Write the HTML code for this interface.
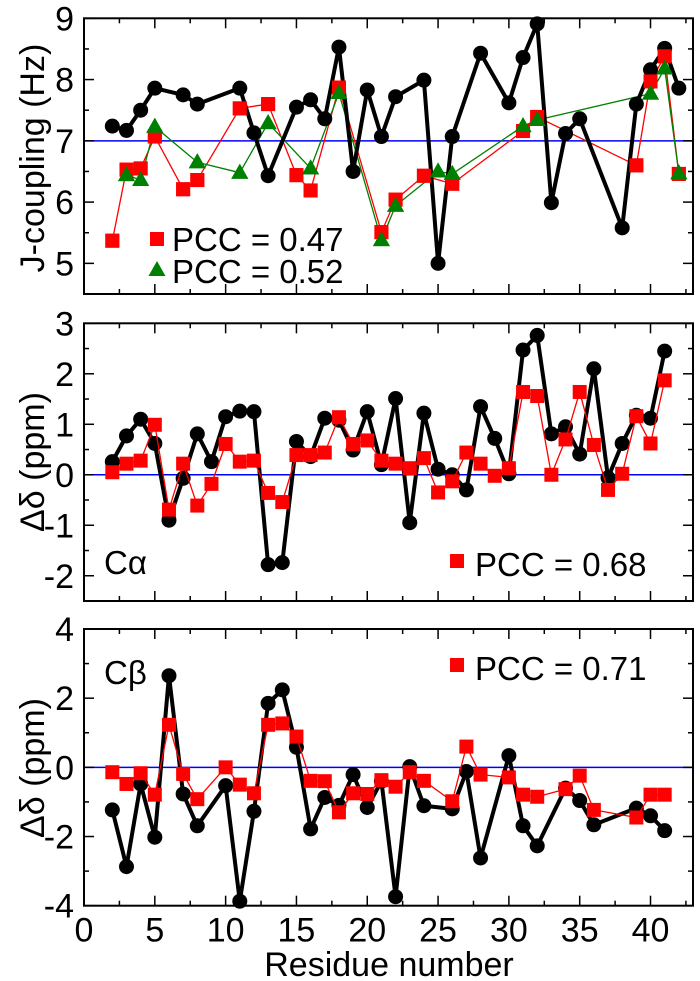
<!DOCTYPE html>
<html><head><meta charset="utf-8"><style>
html,body{margin:0;padding:0;background:#fff;}
svg{display:block;font-family:"Liberation Sans",sans-serif;}
</style></head><body>
<svg id="fig" width="700" height="981" viewBox="0 0 700 981" xmlns="http://www.w3.org/2000/svg"></svg>
<script>
const residues = [2,3,4,5,6,7,8,9,10,11,12,13,14,15,16,17,18,19,20,21,22,23,24,25,26,27,28,29,30,31,32,33,34,35,36,37,38,39,40,41,42];
const jBlack = [7.24,7.17,7.5,7.86,null,7.75,7.6,null,null,7.86,7.13,6.43,null,7.55,7.67,7.36,8.53,6.5,7.83,7.07,7.72,null,7.99,5.0,7.07,null,8.43,null,7.62,8.36,8.91,5.99,7.12,7.36,null,null,5.58,7.6,8.16,8.51,7.86];
const jRed = [5.37,6.53,6.55,7.07,null,6.21,6.36,null,null,7.53,null,7.6,null,6.44,6.19,null,7.87,null,null,5.51,6.04,null,6.43,null,6.3,null,null,null,null,7.16,7.39,null,null,null,null,null,null,6.6,7.97,8.38,6.46];
const jGreen = [null,6.44,6.36,7.23,null,null,6.65,null,null,6.48,null,7.29,null,null,6.55,null,7.78,null,null,5.38,5.94,null,null,6.5,6.46,null,null,null,null,7.24,7.34,null,null,null,null,null,null,null,7.77,8.18,6.47];
const caBlack = [0.26,0.77,1.1,0.62,-0.9,-0.07,0.81,0.26,1.15,1.26,1.25,-1.78,-1.74,0.66,0.36,1.12,1.08,0.49,1.25,0.2,1.51,-0.95,1.22,0.11,0.0,-0.3,1.35,0.72,0.02,2.47,2.76,0.81,0.95,0.41,2.1,-0.06,0.62,1.18,1.12,2.45,null];
const caRed = [0.05,0.22,0.28,0.99,-0.69,0.22,-0.61,-0.18,0.61,0.26,0.28,-0.36,-0.54,0.39,0.39,0.44,1.14,0.61,0.68,0.28,0.22,0.13,0.33,-0.35,-0.13,0.44,0.22,-0.02,0.13,1.64,1.56,0.0,0.7,1.64,0.59,-0.3,0.02,1.16,0.62,1.87,null];
const cbBlack = [-1.23,-2.87,-0.48,-2.02,2.65,-0.77,-1.69,null,-0.53,-3.87,-1.27,1.85,2.24,0.58,-1.78,-0.87,-1.1,-0.21,-1.16,-0.4,-3.74,0.02,-1.11,null,-1.2,-0.12,-2.62,null,0.34,-1.69,-2.27,null,-0.6,-0.96,-1.66,null,null,-1.18,-1.4,-1.83,null];
const cbRed = [-0.14,-0.48,-0.17,-0.79,1.23,-0.19,-0.92,null,0.0,-0.5,-0.75,1.23,1.27,0.89,-0.39,-0.4,-1.3,-0.75,-0.77,-0.37,-0.56,-0.14,-0.39,null,-0.98,0.6,-0.21,null,-0.29,-0.79,-0.85,null,-0.63,-0.24,-1.23,null,null,-1.45,-0.79,-0.79,null];
const xTicks = [0,5,10,15,20,25,30,35,40];
const jTicks = [5,6,7,8,9];
const caTicks = [-2,-1,0,1,2,3];
const cbTicks = [-4,-2,0,2,4];

const NS="http://www.w3.org/2000/svg";
const svg=document.getElementById('fig');
function mk(tag,attrs,parent){const e=document.createElementNS(NS,tag);for(const k in attrs)e.setAttribute(k,attrs[k]);(parent||svg).appendChild(e);return e;}
const XL=84,XR=693,XMIN=0,XMAX=43;
function xs(v){return XL+(v-XMIN)/(XMAX-XMIN)*(XR-XL);}

function panel(name,top,bot,ymin,ymax,yTicks,yMinorStep,refY,showXLabels){
  const g=mk('g',{});
  
  
  const ys=v=>bot-(v-ymin)/(ymax-ymin)*(bot-top);
  const rl=mk('line',{x1:XL,x2:XR,y1:ys(refY),y2:ys(refY),stroke:'#0000ff','stroke-width':1.5},g);
  
  
  for(let v=0;v<=XMAX;v+=2.5){
    const major=v%5===0, L=major?10:5, x=xs(v);
    mk('line',{x1:x,x2:x,y1:bot,y2:bot-L,stroke:'#000','stroke-width':1.5},g);
    mk('line',{x1:x,x2:x,y1:top,y2:top+L,stroke:'#000','stroke-width':1.5},g);
  }
  for(let v=ymin;v<=ymax+1e-9;v+=yMinorStep){
    const major=yTicks.some(t=>Math.abs(t-v)<1e-9), L=major?10:5, y=ys(v);
    mk('line',{x1:XL,x2:XL+L,y1:y,y2:y,stroke:'#000','stroke-width':1.5},g);
    mk('line',{x1:XR,x2:XR-L,y1:y,y2:y,stroke:'#000','stroke-width':1.5},g);
  }
  yTicks.forEach(t=>{
    const tx=mk('text',{x:XL-10,y:ys(t)+12,'text-anchor':'end','font-size':34},g);
    tx.textContent=t;
    
    
  });
  if(showXLabels){xTicks.forEach(t=>{
    const tx=mk('text',{x:xs(t),y:bot+36,'text-anchor':'middle','font-size':34},g);
    tx.textContent=t;
    
    
  });}
  const fr=mk('rect',{x:XL,y:top,width:XR-XL,height:bot-top,fill:'none',stroke:'#000','stroke-width':2},g);
  
  
  return {g,ys};
}
function series(p,vals,color,lw,marker,sname){
  const g=mk('g',{},p.g);
  
  
  const pts=[];
  vals.forEach((v,i)=>{if(v!==null)pts.push([xs(residues[i]),p.ys(v)]);});
  mk('polyline',{points:pts.map(q=>q.join(',')).join(' '),fill:'none',stroke:color,'stroke-width':lw,'stroke-linejoin':'round'},g);
  pts.forEach(([x,y])=>{
    let m;
    if(marker==='circle')m=mk('circle',{cx:x,cy:y,r:7.5,fill:'#000'},g);
    else if(marker==='square')m=mk('rect',{x:x-7,y:y-7,width:14,height:14,fill:'#ff0000'},g);
    else m=mk('polygon',{points:`${x},${y-9} ${x-8.5},${y+6} ${x+8.5},${y+6}`,fill:'#008000'},g);
    
    
  });
}
function text(str,x,y,size,name,rot){
  const a={x:x,y:y,'font-size':size};
  if(rot){a['text-anchor']='middle';a.transform=`rotate(-90 ${x} ${y})`;}
  const t=mk('text',a);t.textContent=str;
  
  
  return t;
}

const p1=panel('j-coupling-panel',18.3,294,4.5,9,jTicks,0.5,7,false);
series(p1,jRed,'#ff0000',1.3,'square','series-red');
series(p1,jGreen,'#008000',1.3,'triangle','series-green');
series(p1,jBlack,'#000',4,'circle','series-black');
series(p1,jRed,'#ff0000',0,'square','series-red-markers');
series(p1,jGreen,'#008000',0,'triangle','series-green-markers');

const p2=panel('c-alpha-panel',323.3,601,-2.5,3,caTicks,0.5,0,false);
series(p2,caBlack,'#000',4,'circle','series-black');
series(p2,caRed,'#ff0000',1.3,'square','series-red');

const p3=panel('c-beta-panel',629,905.7,-4,4,cbTicks,1,0,true);
series(p3,cbBlack,'#000',4,'circle','series-black');
series(p3,cbRed,'#ff0000',1.3,'square','series-red');

function legSq(x,y){const r=mk('rect',{x:x-7,y:y-7,width:14,height:14,fill:'#ff0000'});}
legSq(157,239); text('PCC = 0.47',172,251,33,'legend-entry-red');
const tri=mk('polygon',{points:'157,261 148.5,276 165.5,276',fill:'#008000'});


text('PCC = 0.52',172,283,33,'legend-entry-green');
legSq(457,561); text('PCC = 0.68',475,576,33,'legend-entry-red');
legSq(457,665); text('PCC = 0.71',475,680,33,'legend-entry-red');
text('Cα',104,574,33,'c-alpha-label');
text('Cβ',104,684,33,'c-beta-label');
text('J-coupling (Hz)',44,158,34,'y-axis-title',true);
text('Δδ  (ppm)',44,462,34,'y-axis-title',true);
text('Δδ  (ppm)',44,768,34,'y-axis-title',true);
const xt=text('Residue number',389,976,34,'x-axis-title');xt.setAttribute('text-anchor','middle');
</script>
</body></html>
